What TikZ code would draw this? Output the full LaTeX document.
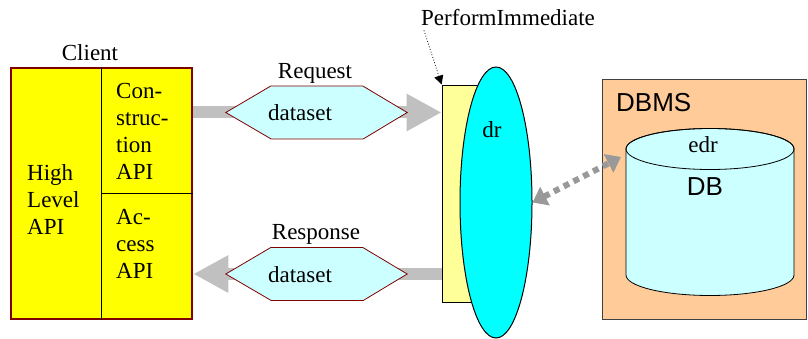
\documentclass[tikz,border=0pt]{standalone}
\usepackage{fontspec}
\setmainfont{Liberation Serif}
\setsansfont{Liberation Sans}
\usetikzlibrary{arrows.meta,shapes.geometric}
\definecolor{clientred}{HTML}{800000}
\definecolor{clientyellow}{HTML}{FFFF00}
\definecolor{paleyellow}{HTML}{FFFF99}
\definecolor{palecyan}{HTML}{CCFFFF}
\definecolor{drcyan}{HTML}{00FFFF}
\definecolor{peach}{HTML}{FFCC99}
\definecolor{arrowgray}{HTML}{C0C0C0}
\definecolor{dotgray}{HTML}{999999}
\tikzset{
  txt/.style={font=\fontsize{23}{27}\selectfont, inner sep=0pt},
  sanstxt/.style={font=\sffamily\fontsize{26}{30}\selectfont, inner sep=0pt},
  clientbox/.style={draw=clientred, line width=2.5pt, fill=clientyellow, minimum width=181pt, minimum height=251pt, inner sep=0pt},
  hexbox/.style={minimum width=181pt, minimum height=53pt, inner sep=0pt},
  hexline/.style={draw=clientred, line width=0.8pt, fill=palecyan, line join=miter},
  bigarrow/.style={draw=arrowgray, line width=12pt, -{Triangle[length=35pt,width=35pt]}, arrowgray},
  dotarrow/.style={draw=dotgray, line width=6pt, dash pattern=on 6pt off 5pt, {Triangle[length=14pt,width=20pt]}-{Triangle[length=14pt,width=20pt]}, dotgray},
}
\begin{document}
\begin{tikzpicture}[x=1pt,y=-1pt]
\useasboundingbox (0,0) rectangle (808,339);
% Client
\node[clientbox] (client) at (101.5,193.5) {};
\draw[line width=1pt] (client.north) -- (client.south);
\draw[line width=1pt] (client.center) -- (client.east);
\node[txt] (clientlbl) at (90,53) {Client};
\node[txt, align=left, anchor=west] (hl) at (27,200) {High\\Level\\API};
\node[txt, align=left, anchor=west] (cons) at (116,131) {Con-\\struc-\\tion\\API};
\node[txt, align=left, anchor=west] (acc) at (116,244) {Ac-\\cess\\API};
% Receiver rectangle and ellipse
\node[draw, line width=0.8pt, fill=paleyellow, minimum width=40pt, minimum height=217pt, inner sep=0pt] (rect) at (462,193.5) {};
% hexagon placeholders
\node[hexbox] (req) at (316.5,112.5) {};
\node[hexbox] (resp) at (316.5,274) {};
% arrows
\draw[bigarrow] (client.east |- req.center) -- (rect.west |- req.center);
\draw[bigarrow] (rect.west |- resp.center) -- (client.east |- resp.center);
% hexagons
\draw[hexline] (req.west) -- ++(45,-26.5) -- ++(92,0) -- (req.east) -- ++(-44,26.5) -- ++(-92,0) -- cycle;
\draw[hexline] (resp.west) -- ++(45,-26.5) -- ++(92,0) -- (resp.east) -- ++(-44,26.5) -- ++(-92,0) -- cycle;
\node[txt] (reqtxt) at (300,113) {dataset};
\node[txt] (resptxt) at (300,275) {dataset};
\node[txt] (reqlbl) at (315,73) {Request};
\node[txt] (resplbl) at (316,234) {Response};
% ellipse dr
\node[ellipse, draw, line width=1pt, fill=drcyan, minimum width=72pt, minimum height=271pt, inner sep=0pt] (dr) at (496,202.5) {};
\node[txt] (drlbl) at (492,130) {dr};
% PerformImmediate
\node[txt, anchor=west] (pi) at (421,18) {PerformImmediate};
\draw[line width=0.8pt, dotted, -{Triangle[length=9pt,width=9pt]}] (pi.south west) ++(3,4) -- (rect.north west);
% DBMS
\node[draw=black!75, line width=0.8pt, fill=peach, minimum width=204pt, minimum height=240pt, inner sep=0pt] (dbms) at (704,199) {};
\node[sanstxt, anchor=west] (dbmslbl) at (616,103) {DBMS};
\filldraw[line width=0.8pt, fill=palecyan] (626,149) -- (626,275) arc[start angle=180, end angle=0, x radius=84, y radius=20.5] -- (794,149) arc[start angle=0, end angle=-180, x radius=84, y radius=20.5] -- cycle;
\draw[line width=0.8pt] (710,149) ellipse[x radius=84, y radius=20.5];
\node (db) at (710,212) [minimum width=168pt, minimum height=167pt, inner sep=0pt] {};
\node[txt] (edr) at (703,145) {edr};
\node[sanstxt] (dblbl) at (705,187) {DB};
\coordinate (dbin) at (621,157);
\draw[dotarrow] (dr.east) -- (dbin);
\end{tikzpicture}
\end{document}
